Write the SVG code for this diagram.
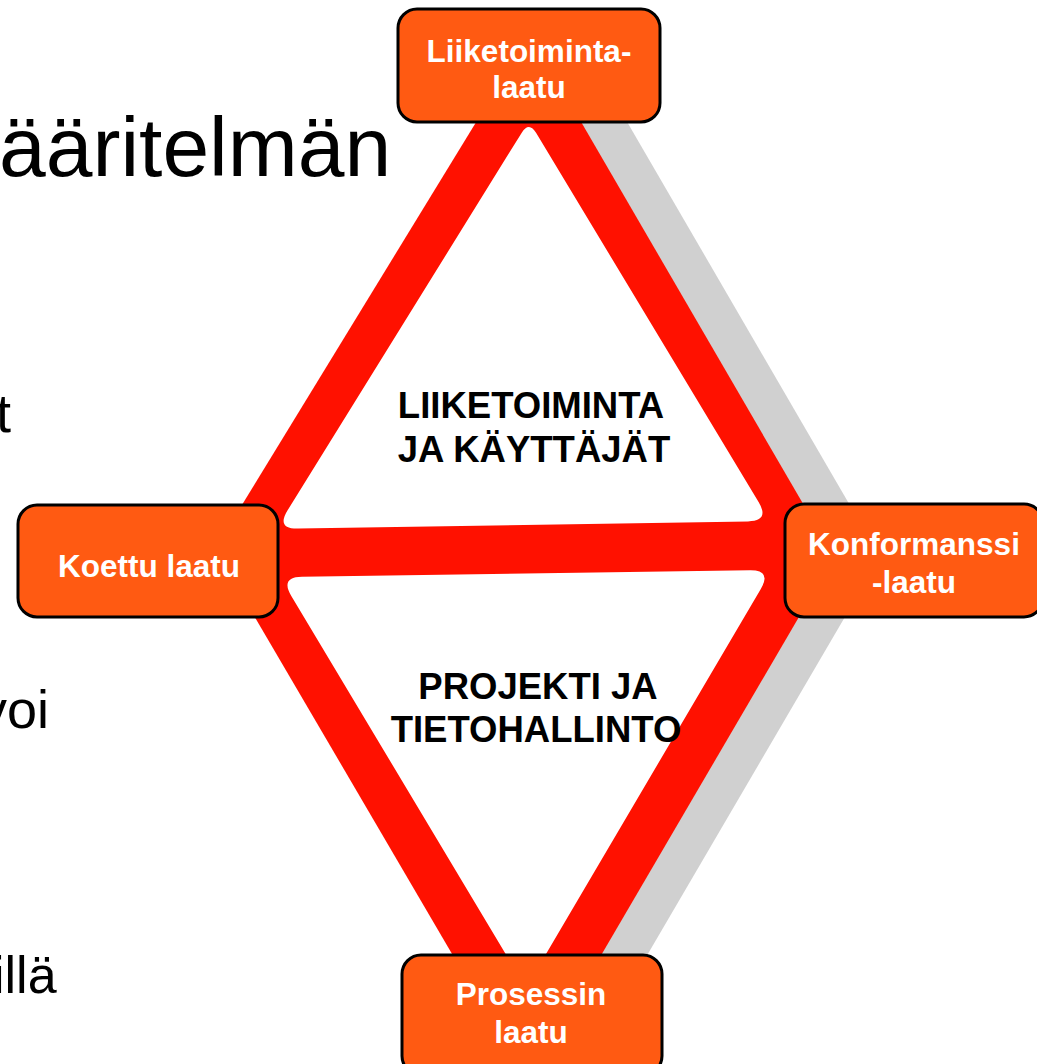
<svg xmlns="http://www.w3.org/2000/svg" width="1037" height="1064" viewBox="0 0 1037 1064">
<style>
  .bg{fill:#ffffff}
  .body{font-family:"Liberation Sans",Arial,sans-serif;fill:#000000}
  .node rect{fill:#FF5A12;stroke:#000000;stroke-width:3}
  .node text{font-family:"Liberation Sans",Arial,sans-serif;font-weight:bold;font-size:31.5px;fill:#ffffff;text-anchor:middle}
  .area{font-family:"Liberation Sans",Arial,sans-serif;font-weight:bold;font-size:36.5px;fill:#000000;text-anchor:middle}
  .shadow{fill:#D0D0D0}
  .band{fill:#FF1100}
  .hole{fill:#ffffff}
</style>
<defs>
  <polygon id="diamond" points="530,34 834,557 527,1082 215,549"/>
</defs>
<rect class="bg" x="0" y="0" width="1037" height="1064"/>

<g id="background-text">
  <text class="body" x="-1" y="176" font-size="84">ääritelmän</text>
  <text class="body" x="-4" y="432" font-size="54">t</text>
  <text class="body" x="-20" y="728" font-size="54">voi</text>
  <text class="body" x="-7" y="993" font-size="52">illä</text>
</g>

<g id="connectors">
  <use href="#diamond" class="shadow" transform="translate(46,0)"/>
  <use href="#diamond" class="band"/>
  <path class="hole" d="M 521.6,132.9 Q 529,121 536.2,133 L 758.6,502.1 Q 770,521 748,521.4 L 298,528.6 Q 276,529 287.6,510.3 Z"/>
  <path class="hole" d="M 291.3,595.9 Q 280,577 302,576.7 L 750,570.3 Q 772,570 760.8,589 L 526,988 Z"/>
</g>

<g id="area-labels">
  <text class="area" x="531" y="418">LIIKETOIMINTA</text>
  <text class="area" x="534" y="462">JA KÄYTTÄJÄT</text>
  <text class="area" x="538" y="699">PROJEKTI JA</text>
  <text class="area" x="536" y="742">TIETOHALLINTO</text>
</g>

<g id="node-liiketoimintalaatu" class="node">
  <rect x="398" y="9" width="262" height="113" rx="19"/>
  <text x="529" y="62">Liiketoiminta-</text>
  <text x="529" y="98">laatu</text>
</g>

<g id="node-koettu-laatu" class="node">
  <rect x="18" y="505" width="260" height="112" rx="19"/>
  <text x="149" y="577">Koettu laatu</text>
</g>

<g id="node-konformanssilaatu" class="node">
  <rect x="785" y="504" width="258" height="113" rx="19"/>
  <text x="914" y="555">Konformanssi</text>
  <text x="914" y="593">-laatu</text>
</g>

<g id="node-prosessin-laatu" class="node">
  <rect x="402" y="955" width="260" height="120" rx="19"/>
  <text x="531" y="1005">Prosessin</text>
  <text x="531" y="1043">laatu</text>
</g>
</svg>
